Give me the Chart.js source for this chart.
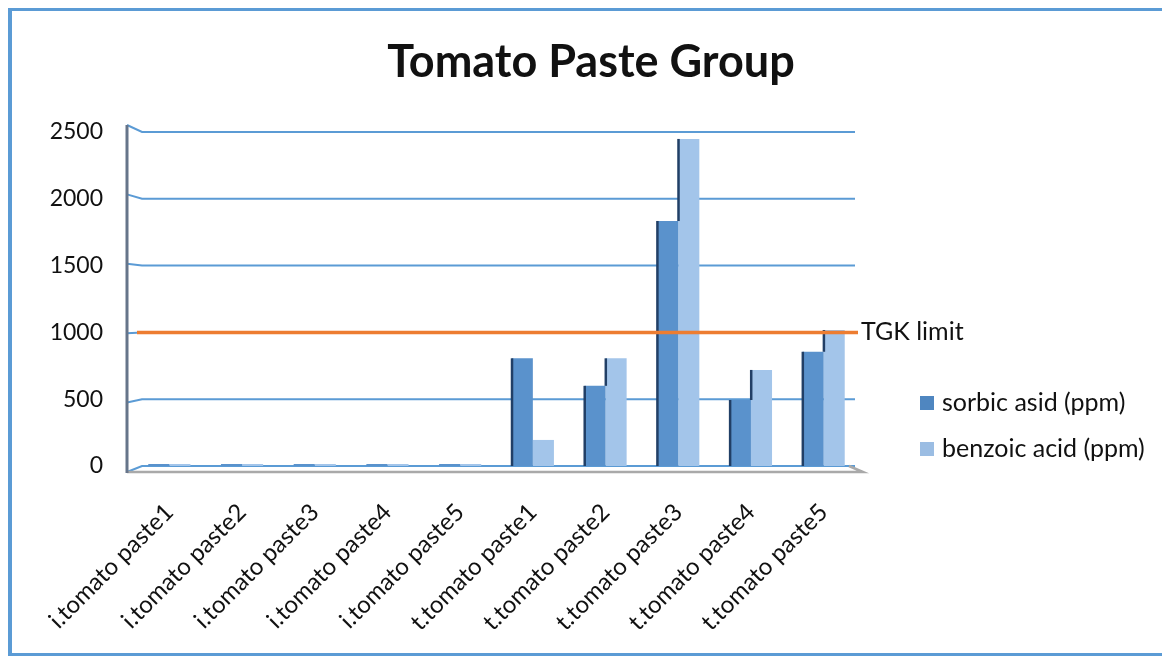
<!DOCTYPE html>
<html>
<head>
<meta charset="utf-8">
<script src="https://cdn.jsdelivr.net/npm/chart.js@4/dist/chart.umd.min.js"></script>
<style>
  html, body { margin: 0; padding: 0; background: #fff; overflow: hidden; }
  #wrap { position: relative; width: 1162px; height: 656px; overflow: hidden; }
  canvas { position: absolute; left: 0; top: 0; }
</style>
</head>
<body>
<div id="wrap">
  <canvas id="chart" width="1162" height="656"></canvas>
</div>
<script>
// Preservative content per sample (ppm)
const categories = [
  'i.tomato paste1', 'i.tomato paste2', 'i.tomato paste3', 'i.tomato paste4', 'i.tomato paste5',
  't.tomato paste1', 't.tomato paste2', 't.tomato paste3', 't.tomato paste4', 't.tomato paste5'
];
const sorbicAcid  = [0, 0, 0, 0, 0, 806, 600, 1834, 494, 855];
const benzoicAcid = [0, 0, 0, 0, 0, 195, 806, 2448, 719, 1018];
const yTicks = [0, 500, 1000, 1500, 2000, 2500];
const tgkLimit = 1000;

const seriesNames = ['sorbic asid (ppm)', 'benzoic acid (ppm)'];
const titleText = 'Tomato Paste Group';
const limitText = 'TGK limit';

const FONT = 'Lato, "Open Sans", "DejaVu Sans", sans-serif';
const TEXT = '#111';

// Outer frame (left, top and bottom edges)
const frame = {
  id: 'frame',
  beforeDraw(chart) {
    const { ctx, width, height } = chart;
    ctx.save();
    ctx.fillStyle = '#fff';
    ctx.fillRect(0, 0, width, height);
    ctx.fillStyle = '#5b9bd5';
    ctx.fillRect(8, 8, width - 8, 3);
    ctx.fillRect(8, 8, 4, height - 8);
    ctx.fillRect(8, height - 3, width - 8, 3);
    ctx.restore();
  }
};

// Extra drawing: pseudo-3D walls/floor, limit line, legend and title
const decorations = {
  id: 'decorations',
  beforeDatasetsDraw(chart) {
    const { ctx, scales: { y }, chartArea: a } = chart;
    const axisX = a.left - 6;
    const wallL = a.left + 9;
    const wallR = a.right - 5;
    const max = yTicks[yTicks.length - 1];
    ctx.save();
    // side wall + back wall gridlines
    ctx.strokeStyle = '#5b9bd5';
    ctx.lineWidth = 2;
    yTicks.forEach(v => {
      const yb = y.getPixelForValue(v);
      const ys = yb + 6 - 13 * v / max;
      ctx.beginPath();
      ctx.moveTo(axisX, ys);
      ctx.lineTo(wallL, yb);
      ctx.lineTo(wallR, yb);
      ctx.stroke();
    });
    // floor front edge
    const y0 = y.getPixelForValue(0);
    ctx.strokeStyle = '#a9a9a9';
    ctx.lineWidth = 2.5;
    ctx.beginPath();
    ctx.moveTo(axisX, y0 + 6);
    ctx.lineTo(wallR + 8, y0 + 6);
    ctx.lineTo(wallR - 6, y0);
    ctx.stroke();
    // vertical axis
    ctx.strokeStyle = '#66758a';
    ctx.lineWidth = 3;
    ctx.beginPath();
    ctx.moveTo(axisX, y.getPixelForValue(max) - 7);
    ctx.lineTo(axisX, y0 + 7);
    ctx.stroke();
    ctx.restore();
  },
  afterDatasetsDraw(chart) {
    const { ctx, scales: { y }, chartArea: a } = chart;
    const m0 = chart.getDatasetMeta(0).data;
    const m1 = chart.getDatasetMeta(1).data;
    ctx.save();
    // shaded side faces of the columns
    ctx.fillStyle = '#213f66';
    m0.forEach(bar => {
      const h = bar.base - bar.y;
      if (h > 4) ctx.fillRect(bar.x - bar.width / 2 - 1, bar.y, 2.5, h);
    });
    m1.forEach((bar, i) => {
      const bottom = Math.min(bar.base, m0[i].y);
      const h = bottom - bar.y;
      if (h > 1 && bar.base - bar.y > 4) ctx.fillRect(bar.x - bar.width / 2 - 1, bar.y, 2.5, h);
    });
    // limit line
    const yl = y.getPixelForValue(tgkLimit);
    ctx.strokeStyle = '#ed7d31';
    ctx.lineWidth = 3.5;
    ctx.beginPath();
    ctx.moveTo(a.left + 4, yl);
    ctx.lineTo(a.right - 2, yl);
    ctx.stroke();
    ctx.fillStyle = TEXT;
    ctx.font = '25px ' + FONT;
    ctx.textBaseline = 'middle';
    ctx.textAlign = 'left';
    ctx.fillText(limitText, a.right + 1, yl);
    // legend
    chart.data.datasets.forEach((ds, i) => {
      const cy = 403 + i * 46;
      ctx.fillStyle = ds.legendColor;
      ctx.fillRect(920, cy - 7, 14, 14);
      ctx.fillStyle = TEXT;
      ctx.fillText(ds.label, 942, cy);
    });
    // title
    ctx.font = 'bold 45px ' + FONT;
    ctx.textAlign = 'center';
    ctx.fillText(titleText, 591, 62);
    ctx.restore();
  }
};

new Chart(document.getElementById('chart'), {
  type: 'bar',
  data: {
    labels: categories,
    datasets: [
      { label: seriesNames[0], data: sorbicAcid, backgroundColor: '#5a92cc', legendColor: '#4f86c0' },
      { label: seriesNames[1], data: benzoicAcid, backgroundColor: '#a3c5ea', legendColor: '#9bbde3' }
    ]
  },
  options: {
    responsive: false,
    animation: false,
    devicePixelRatio: 1,
    layout: { padding: { top: 132, right: 302, bottom: 0, left: 0 } },
    datasets: { bar: { categoryPercentage: 0.58, barPercentage: 1.0, minBarLength: 2 } },
    plugins: {
      legend: { display: false },
      title: { display: false },
      tooltip: { enabled: false }
    },
    scales: {
      x: {
        grid: { display: false, drawTicks: false },
        border: { display: false },
        afterFit(scale) { scale.height = 190; },
        ticks: {
          minRotation: 45, maxRotation: 45, padding: 32,
          color: TEXT, font: { family: FONT, size: 24 }
        }
      },
      y: {
        min: 0, max: 2500,
        afterFit(scale) { scale.width = 133; },
        afterBuildTicks(scale) { scale.ticks = yTicks.map(v => ({ value: v })); },
        grid: { display: false, drawTicks: false },
        border: { display: false },
        ticks: {
          padding: 30, color: TEXT, font: { family: FONT, size: 23 },
          callback: v => String(v)
        }
      }
    }
  },
  plugins: [frame, decorations]
});
</script>
</body>
</html>
